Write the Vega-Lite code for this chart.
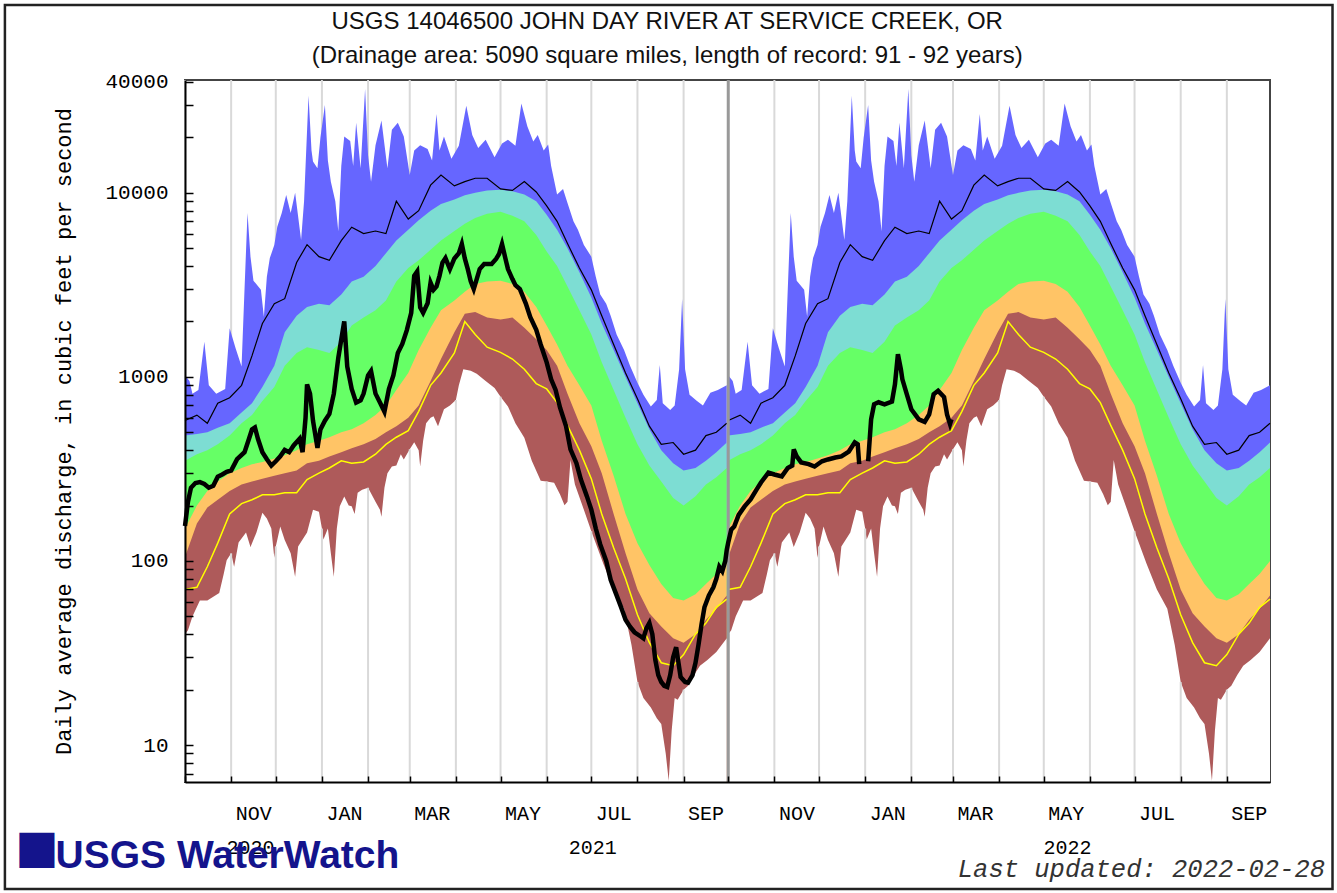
{
"$schema": "https://vega.github.io/schema/vega-lite/v6.json",
"width": 1085, "height": 702,
"autosize": {"type": "none"},
"padding": {"left": 185, "top": 80, "right": 67, "bottom": 111},
"background": "white",
"config": {
  "view": {"stroke": "#444", "strokeWidth": 2},
  "axis": {"labelFont": "Liberation Mono", "labelColor": "#000", "titleFont": "Liberation Mono", "titleColor": "#000", "titleFontWeight": "normal", "domainColor": "#000", "domainWidth": 2, "tickColor": "#000", "grid": false}
},
"datasets": {
"one": [{}],
"titles": [{"d":"2021-08-21","t":"USGS 14046500 JOHN DAY RIVER AT SERVICE CREEK, OR","p":84700},{"d":"2021-08-21","t":"(Drainage area: 5090 square miles, length of record: 91 - 92 years)","p":55360}],
"bands": [
{"d":"2020-10-01","e":"2021-10-01","a":480,"b":350,"c":150,"f":105,"k":580,"y":70},
{"d":"2020-10-09","e":"2021-10-09","a":490,"b":380,"c":200,"f":160,"k":620,"y":72},
{"d":"2020-10-16","e":"2021-10-16","a":500,"b":400,"c":240,"f":195,"k":560,"y":93},
{"d":"2020-10-23","e":"2021-10-23","a":530,"b":430,"c":270,"f":215,"k":720,"y":125},
{"d":"2020-10-31","e":"2021-10-31","a":560,"b":480,"c":300,"f":240,"k":770,"y":180},
{"d":"2020-11-08","e":"2021-11-08","a":640,"b":560,"c":320,"f":260,"k":900,"y":205},
{"d":"2020-11-15","e":"2021-11-15","a":720,"b":620,"c":335,"f":270,"k":1300,"y":215},
{"d":"2020-11-22","e":"2021-11-22","a":880,"b":740,"c":345,"f":280,"k":1950,"y":229},
{"d":"2020-11-30","e":"2021-11-30","a":1150,"b":880,"c":360,"f":290,"k":2500,"y":229},
{"d":"2020-12-07","e":"2021-12-07","a":1750,"b":1150,"c":375,"f":300,"k":2660,"y":235},
{"d":"2020-12-15","e":"2021-12-15","a":2150,"b":1350,"c":400,"f":310,"k":4180,"y":235},
{"d":"2020-12-22","e":"2021-12-22","a":2400,"b":1450,"c":430,"f":340,"k":5230,"y":277},
{"d":"2020-12-30","e":"2021-12-30","a":2500,"b":1400,"c":450,"f":350,"k":4500,"y":300},
{"d":"2021-01-06","e":"2022-01-06","a":2450,"b":1350,"c":470,"f":370,"k":4300,"y":320},
{"d":"2021-01-14","e":"2022-01-14","a":2800,"b":1550,"c":500,"f":390,"k":5500,"y":350},
{"d":"2021-01-21","e":"2022-01-21","a":3300,"b":1900,"c":520,"f":410,"k":6500,"y":340},
{"d":"2021-01-29","e":"2022-01-29","a":3500,"b":2100,"c":560,"f":430,"k":6000,"y":345},
{"d":"2021-02-06","e":"2022-02-06","a":4000,"b":2300,"c":620,"f":460,"k":6200,"y":380},
{"d":"2021-02-13","e":"2022-02-13","a":4700,"b":2600,"c":700,"f":500,"k":6000,"y":430},
{"d":"2021-02-20","e":"2022-02-20","a":5500,"b":3300,"c":850,"f":540,"k":9000,"y":470},
{"d":"2021-02-28","e":"2022-02-28","a":6300,"b":3900,"c":1050,"f":600,"k":7200,"y":510},
{"d":"2021-03-07","e":"2022-03-07","a":7100,"b":4300,"c":1400,"f":700,"k":8000,"y":650},
{"d":"2021-03-15","e":"2022-03-15","a":8000,"b":4900,"c":1850,"f":950,"k":11000,"y":900},
{"d":"2021-03-22","e":"2022-03-22","a":8700,"b":5500,"c":2300,"f":1250,"k":12500,"y":1050},
{"d":"2021-03-31","e":"2022-03-31","a":9200,"b":6200,"c":2600,"f":1750,"k":10900,"y":1350},
{"d":"2021-04-07","e":"2022-04-07","a":9700,"b":6800,"c":2900,"f":2200,"k":11500,"y":2000},
{"d":"2021-04-14","e":"2022-04-14","a":10000,"b":7300,"c":3200,"f":2250,"k":12000,"y":1700},
{"d":"2021-04-22","e":"2022-04-22","a":10300,"b":7700,"c":3300,"f":2100,"k":12000,"y":1450},
{"d":"2021-05-01","e":"2022-05-01","a":10400,"b":7900,"c":3330,"f":2050,"k":10500,"y":1360},
{"d":"2021-05-09","e":"2022-05-09","a":10200,"b":7500,"c":3200,"f":2100,"k":10300,"y":1250},
{"d":"2021-05-17","e":"2022-05-17","a":9800,"b":7000,"c":2900,"f":1850,"k":11500,"y":1100},
{"d":"2021-05-25","e":"2022-05-25","a":9000,"b":5900,"c":2400,"f":1600,"k":10100,"y":920},
{"d":"2021-06-01","e":"2022-06-01","a":7600,"b":4800,"c":1900,"f":1400,"k":8500,"y":860},
{"d":"2021-06-08","e":"2022-06-08","a":6300,"b":4000,"c":1500,"f":1150,"k":7000,"y":725},
{"d":"2021-06-15","e":"2022-06-15","a":5000,"b":3100,"c":1150,"f":810,"k":5300,"y":545},
{"d":"2021-06-23","e":"2022-06-23","a":3700,"b":2300,"c":900,"f":560,"k":3900,"y":400},
{"d":"2021-07-01","e":"2022-07-01","a":2700,"b":1700,"c":700,"f":420,"k":2970,"y":280},
{"d":"2021-07-08","e":"2022-07-08","a":1950,"b":1200,"c":450,"f":300,"k":2150,"y":180},
{"d":"2021-07-16","e":"2022-07-16","a":1400,"b":850,"c":290,"f":180,"k":1500,"y":118},
{"d":"2021-07-24","e":"2022-07-24","a":1000,"b":600,"c":180,"f":110,"k":1050,"y":80},
{"d":"2021-08-01","e":"2022-08-01","a":720,"b":430,"c":125,"f":70,"k":760,"y":51},
{"d":"2021-08-09","e":"2022-08-09","a":520,"b":330,"c":95,"f":52,"k":540,"y":36},
{"d":"2021-08-17","e":"2022-08-17","a":400,"b":270,"c":75,"f":44,"k":430,"y":28},
{"d":"2021-08-25","e":"2022-08-25","a":340,"b":220,"c":63,"f":38,"k":440,"y":27},
{"d":"2021-09-01","e":"2022-09-01","a":310,"b":200,"c":61,"f":36,"k":380,"y":31},
{"d":"2021-09-09","e":"2022-09-09","a":320,"b":225,"c":66,"f":40,"k":400,"y":40},
{"d":"2021-09-16","e":"2022-09-16","a":350,"b":260,"c":75,"f":48,"k":480,"y":46},
{"d":"2021-09-23","e":"2022-09-23","a":390,"b":285,"c":85,"f":55,"k":500,"y":56},
{"d":"2021-09-30","e":"2022-09-30","a":440,"b":320,"c":100,"f":65,"k":560,"y":62}
],
"mx": [
{"d":"2020-10-01","e":"2021-10-01","v":1020},{"d":"2020-10-04","e":"2021-10-04","v":950},{"d":"2020-10-06","e":"2021-10-06","v":811},{"d":"2020-10-10","e":"2021-10-10","v":850},{"d":"2020-10-14","e":"2021-10-14","v":1550},{"d":"2020-10-17","e":"2021-10-17","v":900},{"d":"2020-10-22","e":"2021-10-22","v":811},{"d":"2020-10-28","e":"2021-10-28","v":860},{"d":"2020-10-31","e":"2021-10-31","v":1840},
{"d":"2020-11-04","e":"2021-11-04","v":1430},{"d":"2020-11-08","e":"2021-11-08","v":1140},{"d":"2020-11-10","e":"2021-11-10","v":3000},{"d":"2020-11-12","e":"2021-11-12","v":7760},{"d":"2020-11-14","e":"2021-11-14","v":4500},{"d":"2020-11-16","e":"2021-11-16","v":3330},{"d":"2020-11-21","e":"2021-11-21","v":2970},{"d":"2020-11-23","e":"2021-11-23","v":2120},{"d":"2020-11-25","e":"2021-11-25","v":3500},{"d":"2020-11-27","e":"2021-11-27","v":4420},{"d":"2020-11-30","e":"2021-11-30","v":5200},
{"d":"2020-12-02","e":"2021-12-02","v":6550},{"d":"2020-12-05","e":"2021-12-05","v":7760},{"d":"2020-12-08","e":"2021-12-08","v":9720},{"d":"2020-12-11","e":"2021-12-11","v":7760},{"d":"2020-12-14","e":"2021-12-14","v":10000},{"d":"2020-12-18","e":"2021-12-18","v":5540},{"d":"2020-12-20","e":"2021-12-20","v":9000},{"d":"2020-12-23","e":"2021-12-23","v":33700},{"d":"2020-12-25","e":"2021-12-25","v":17000},{"d":"2020-12-26","e":"2021-12-26","v":14800},{"d":"2020-12-29","e":"2021-12-29","v":13600},{"d":"2020-12-31","e":"2021-12-31","v":20000},
{"d":"2021-01-03","e":"2022-01-03","v":30000},{"d":"2021-01-05","e":"2022-01-05","v":15000},{"d":"2021-01-07","e":"2022-01-07","v":11500},{"d":"2021-01-10","e":"2022-01-10","v":9000},{"d":"2021-01-12","e":"2022-01-12","v":6190},{"d":"2021-01-14","e":"2022-01-14","v":14000},{"d":"2021-01-16","e":"2022-01-16","v":20200},{"d":"2021-01-20","e":"2022-01-20","v":19100},{"d":"2021-01-22","e":"2022-01-22","v":14000},{"d":"2021-01-24","e":"2022-01-24","v":24000},{"d":"2021-01-27","e":"2022-01-27","v":13600},{"d":"2021-01-30","e":"2022-01-30","v":36600},
{"d":"2021-02-01","e":"2022-02-01","v":16000},{"d":"2021-02-03","e":"2022-02-03","v":11500},{"d":"2021-02-06","e":"2022-02-06","v":18100},{"d":"2021-02-10","e":"2022-02-10","v":24700},{"d":"2021-02-14","e":"2022-02-14","v":13600},{"d":"2021-02-17","e":"2022-02-17","v":22000},{"d":"2021-02-21","e":"2022-02-21","v":24000},{"d":"2021-02-25","e":"2022-02-25","v":20200},
{"d":"2021-03-01","e":"2022-03-01","v":12500},{"d":"2021-03-04","e":"2022-03-04","v":17000},{"d":"2021-03-08","e":"2022-03-08","v":18100},{"d":"2021-03-13","e":"2022-03-13","v":17300},{"d":"2021-03-16","e":"2022-03-16","v":15000},{"d":"2021-03-19","e":"2022-03-19","v":26800},{"d":"2021-03-21","e":"2022-03-21","v":17000},{"d":"2021-03-24","e":"2022-03-24","v":20200},{"d":"2021-03-29","e":"2022-03-29","v":15300},
{"d":"2021-04-03","e":"2022-04-03","v":18000},{"d":"2021-04-08","e":"2022-04-08","v":29700},{"d":"2021-04-12","e":"2022-04-12","v":20600},{"d":"2021-04-16","e":"2022-04-16","v":17500},{"d":"2021-04-21","e":"2022-04-21","v":19400},{"d":"2021-04-27","e":"2022-04-27","v":15600},
{"d":"2021-05-02","e":"2022-05-02","v":18500},{"d":"2021-05-06","e":"2022-05-06","v":19400},{"d":"2021-05-11","e":"2022-05-11","v":18000},{"d":"2021-05-15","e":"2022-05-15","v":30600},{"d":"2021-05-19","e":"2022-05-19","v":23000},{"d":"2021-05-23","e":"2022-05-23","v":19000},{"d":"2021-05-26","e":"2022-05-26","v":20600},{"d":"2021-05-30","e":"2022-05-30","v":17000},
{"d":"2021-06-02","e":"2022-06-02","v":18300},{"d":"2021-06-04","e":"2022-06-04","v":14000},{"d":"2021-06-08","e":"2022-06-08","v":9800},{"d":"2021-06-12","e":"2022-06-12","v":10500},{"d":"2021-06-15","e":"2022-06-15","v":8800},{"d":"2021-06-19","e":"2022-06-19","v":7000},{"d":"2021-06-22","e":"2022-06-22","v":6300},{"d":"2021-06-26","e":"2022-06-26","v":5200},
{"d":"2021-07-01","e":"2022-07-01","v":4500},{"d":"2021-07-04","e":"2022-07-04","v":3500},{"d":"2021-07-07","e":"2022-07-07","v":2800},{"d":"2021-07-11","e":"2022-07-11","v":2500},{"d":"2021-07-14","e":"2022-07-14","v":2150},{"d":"2021-07-18","e":"2022-07-18","v":1700},{"d":"2021-07-23","e":"2022-07-23","v":1400},{"d":"2021-07-27","e":"2022-07-27","v":1150},
{"d":"2021-08-01","e":"2022-08-01","v":930},{"d":"2021-08-05","e":"2022-08-05","v":800},{"d":"2021-08-10","e":"2022-08-10","v":690},{"d":"2021-08-14","e":"2022-08-14","v":750},{"d":"2021-08-16","e":"2022-08-16","v":1160},{"d":"2021-08-18","e":"2022-08-18","v":720},{"d":"2021-08-23","e":"2022-08-23","v":660},{"d":"2021-08-26","e":"2022-08-26","v":700},{"d":"2021-08-29","e":"2022-08-29","v":1100},{"d":"2021-08-31","e":"2022-08-31","v":2650},
{"d":"2021-09-02","e":"2022-09-02","v":1100},{"d":"2021-09-05","e":"2022-09-05","v":800},{"d":"2021-09-10","e":"2022-09-10","v":740},{"d":"2021-09-14","e":"2022-09-14","v":700},{"d":"2021-09-19","e":"2022-09-19","v":820},{"d":"2021-09-24","e":"2022-09-24","v":850},{"d":"2021-09-30","e":"2022-09-30","v":900}
],
"mn": [
{"d":"2020-10-01","e":"2021-10-01","v":40},{"d":"2020-10-03","e":"2021-10-03","v":42},{"d":"2020-10-06","e":"2021-10-06","v":50},{"d":"2020-10-11","e":"2021-10-11","v":61},{"d":"2020-10-16","e":"2021-10-16","v":61},{"d":"2020-10-20","e":"2021-10-20","v":64},{"d":"2020-10-24","e":"2021-10-24","v":67},{"d":"2020-10-27","e":"2021-10-27","v":85},{"d":"2020-10-29","e":"2021-10-29","v":101},
{"d":"2020-11-01","e":"2021-11-01","v":110},{"d":"2020-11-03","e":"2021-11-03","v":93},{"d":"2020-11-06","e":"2021-11-06","v":126},{"d":"2020-11-11","e":"2021-11-11","v":143},{"d":"2020-11-14","e":"2021-11-14","v":119},{"d":"2020-11-18","e":"2021-11-18","v":143},{"d":"2020-11-22","e":"2021-11-22","v":183},{"d":"2020-11-25","e":"2021-11-25","v":170},{"d":"2020-11-28","e":"2021-11-28","v":150},{"d":"2020-11-30","e":"2021-11-30","v":104},
{"d":"2020-12-01","e":"2021-12-01","v":120},{"d":"2020-12-04","e":"2021-12-04","v":154},{"d":"2020-12-07","e":"2021-12-07","v":130},{"d":"2020-12-11","e":"2021-12-11","v":110},{"d":"2020-12-14","e":"2021-12-14","v":82},{"d":"2020-12-16","e":"2021-12-16","v":120},{"d":"2020-12-19","e":"2021-12-19","v":131},{"d":"2020-12-22","e":"2021-12-22","v":143},{"d":"2020-12-26","e":"2021-12-26","v":190},{"d":"2020-12-30","e":"2021-12-30","v":185},
{"d":"2021-01-01","e":"2022-01-01","v":150},{"d":"2021-01-02","e":"2022-01-02","v":131},{"d":"2021-01-05","e":"2022-01-05","v":150},{"d":"2021-01-07","e":"2022-01-07","v":110},{"d":"2021-01-09","e":"2022-01-09","v":82},{"d":"2021-01-11","e":"2022-01-11","v":150},{"d":"2021-01-13","e":"2022-01-13","v":198},{"d":"2021-01-16","e":"2022-01-16","v":224},{"d":"2021-01-19","e":"2022-01-19","v":200},{"d":"2021-01-21","e":"2022-01-21","v":198},{"d":"2021-01-23","e":"2022-01-23","v":180},{"d":"2021-01-25","e":"2022-01-25","v":235},{"d":"2021-01-28","e":"2022-01-28","v":244},
{"d":"2021-02-01","e":"2022-02-01","v":250},{"d":"2021-02-06","e":"2022-02-06","v":210},{"d":"2021-02-09","e":"2022-02-09","v":190},{"d":"2021-02-10","e":"2022-02-10","v":174},{"d":"2021-02-12","e":"2022-02-12","v":250},{"d":"2021-02-14","e":"2022-02-14","v":300},{"d":"2021-02-17","e":"2022-02-17","v":326},{"d":"2021-02-20","e":"2022-02-20","v":330},{"d":"2021-02-23","e":"2022-02-23","v":380},{"d":"2021-02-25","e":"2022-02-25","v":356},
{"d":"2021-03-01","e":"2022-03-01","v":404},{"d":"2021-03-04","e":"2022-03-04","v":441},{"d":"2021-03-07","e":"2022-03-07","v":400},{"d":"2021-03-08","e":"2022-03-08","v":326},{"d":"2021-03-10","e":"2022-03-10","v":450},{"d":"2021-03-12","e":"2022-03-12","v":560},{"d":"2021-03-15","e":"2022-03-15","v":600},{"d":"2021-03-17","e":"2022-03-17","v":611},{"d":"2021-03-20","e":"2022-03-20","v":540},{"d":"2021-03-24","e":"2022-03-24","v":667},{"d":"2021-03-28","e":"2022-03-28","v":700},
{"d":"2021-04-01","e":"2022-04-01","v":750},{"d":"2021-04-03","e":"2022-04-03","v":900},{"d":"2021-04-06","e":"2022-04-06","v":1100},{"d":"2021-04-11","e":"2022-04-11","v":1080},{"d":"2021-04-15","e":"2022-04-15","v":1040},{"d":"2021-04-21","e":"2022-04-21","v":950},{"d":"2021-04-27","e":"2022-04-27","v":870},
{"d":"2021-05-01","e":"2022-05-01","v":780},{"d":"2021-05-06","e":"2022-05-06","v":690},{"d":"2021-05-11","e":"2022-05-11","v":560},{"d":"2021-05-17","e":"2022-05-17","v":467},{"d":"2021-05-22","e":"2022-05-22","v":350},{"d":"2021-05-28","e":"2022-05-28","v":273},
{"d":"2021-06-01","e":"2022-06-01","v":270},{"d":"2021-06-06","e":"2022-06-06","v":266},{"d":"2021-06-10","e":"2022-06-10","v":230},{"d":"2021-06-13","e":"2022-06-13","v":201},{"d":"2021-06-15","e":"2022-06-15","v":210},{"d":"2021-06-17","e":"2022-06-17","v":354},{"d":"2021-06-20","e":"2022-06-20","v":260},{"d":"2021-06-26","e":"2022-06-26","v":190},
{"d":"2021-07-01","e":"2022-07-01","v":145},{"d":"2021-07-09","e":"2022-07-09","v":97},{"d":"2021-07-16","e":"2022-07-16","v":70},{"d":"2021-07-23","e":"2022-07-23","v":55},{"d":"2021-07-28","e":"2022-07-28","v":35},
{"d":"2021-08-01","e":"2022-08-01","v":22},{"d":"2021-08-05","e":"2022-08-05","v":18},{"d":"2021-08-10","e":"2022-08-10","v":16},{"d":"2021-08-14","e":"2022-08-14","v":14},{"d":"2021-08-17","e":"2022-08-17","v":13},{"d":"2021-08-20","e":"2022-08-20","v":9},{"d":"2021-08-22","e":"2022-08-22","v":6.4},{"d":"2021-08-24","e":"2022-08-24","v":12},{"d":"2021-08-26","e":"2022-08-26","v":18},{"d":"2021-08-28","e":"2022-08-28","v":17.6},
{"d":"2021-09-01","e":"2022-09-01","v":20},{"d":"2021-09-04","e":"2022-09-04","v":21},{"d":"2021-09-08","e":"2022-09-08","v":24},{"d":"2021-09-12","e":"2022-09-12","v":27},{"d":"2021-09-17","e":"2022-09-17","v":29},{"d":"2021-09-23","e":"2022-09-23","v":32},{"d":"2021-09-30","e":"2022-09-30","v":38}
],
"flow": [
{"d":"2020-10-01","v":155,"s":1},{"d":"2020-10-03","v":210,"s":1},{"d":"2020-10-05","v":250,"s":1},{"d":"2020-10-08","v":265,"s":1},{"d":"2020-10-11","v":268,"s":1},{"d":"2020-10-14","v":262,"s":1},{"d":"2020-10-17","v":250,"s":1},{"d":"2020-10-20","v":256,"s":1},{"d":"2020-10-23","v":287,"s":1},{"d":"2020-10-26","v":295,"s":1},{"d":"2020-10-29","v":305,"s":1},
{"d":"2020-11-01","v":310,"s":1},{"d":"2020-11-05","v":357,"s":1},{"d":"2020-11-10","v":390,"s":1},{"d":"2020-11-13","v":461,"s":1},{"d":"2020-11-15","v":518,"s":1},{"d":"2020-11-17","v":531,"s":1},{"d":"2020-11-19","v":461,"s":1},{"d":"2020-11-22","v":390,"s":1},{"d":"2020-11-25","v":357,"s":1},{"d":"2020-11-28","v":330,"s":1},
{"d":"2020-12-01","v":348,"s":1},{"d":"2020-12-04","v":370,"s":1},{"d":"2020-12-07","v":401,"s":1},{"d":"2020-12-10","v":390,"s":1},{"d":"2020-12-13","v":424,"s":1},{"d":"2020-12-17","v":461,"s":1},{"d":"2020-12-19","v":390,"s":1},{"d":"2020-12-21","v":600,"s":1},{"d":"2020-12-22","v":911,"s":1},{"d":"2020-12-24","v":811,"s":1},{"d":"2020-12-26","v":578,"s":1},{"d":"2020-12-29","v":411,"s":1},{"d":"2020-12-31","v":518,"s":1},
{"d":"2021-01-03","v":578,"s":1},{"d":"2021-01-06","v":629,"s":1},{"d":"2021-01-09","v":811,"s":1},{"d":"2021-01-12","v":1270,"s":1},{"d":"2021-01-15","v":1790,"s":1},{"d":"2021-01-16","v":2000,"s":1},{"d":"2021-01-18","v":1140,"s":1},{"d":"2021-01-21","v":859,"s":1},{"d":"2021-01-24","v":725,"s":1},{"d":"2021-01-27","v":746,"s":1},{"d":"2021-01-29","v":811,"s":1},
{"d":"2021-02-01","v":1017,"s":1},{"d":"2021-02-03","v":1075,"s":1},{"d":"2021-02-06","v":811,"s":1},{"d":"2021-02-09","v":725,"s":1},{"d":"2021-02-12","v":647,"s":1},{"d":"2021-02-15","v":859,"s":1},{"d":"2021-02-18","v":1017,"s":1},{"d":"2021-02-21","v":1350,"s":1},{"d":"2021-02-24","v":1510,"s":1},{"d":"2021-02-27","v":1790,"s":1},
{"d":"2021-03-02","v":2230,"s":1},{"d":"2021-03-04","v":3540,"s":1},{"d":"2021-03-06","v":3740,"s":1},{"d":"2021-03-08","v":2390,"s":1},{"d":"2021-03-10","v":2230,"s":1},{"d":"2021-03-13","v":2510,"s":1},{"d":"2021-03-15","v":3250,"s":1},{"d":"2021-03-17","v":2970,"s":1},{"d":"2021-03-19","v":3100,"s":1},{"d":"2021-03-21","v":3540,"s":1},{"d":"2021-03-23","v":4180,"s":1},{"d":"2021-03-25","v":4420,"s":1},{"d":"2021-03-28","v":3850,"s":1},{"d":"2021-03-31","v":4400,"s":1},
{"d":"2021-04-03","v":4700,"s":1},{"d":"2021-04-05","v":5270,"s":1},{"d":"2021-04-07","v":4400,"s":1},{"d":"2021-04-09","v":3850,"s":1},{"d":"2021-04-11","v":3300,"s":1},{"d":"2021-04-13","v":3000,"s":1},{"d":"2021-04-15","v":3400,"s":1},{"d":"2021-04-17","v":3850,"s":1},{"d":"2021-04-20","v":4100,"s":1},{"d":"2021-04-25","v":4100,"s":1},{"d":"2021-04-28","v":4370,"s":1},{"d":"2021-04-30","v":4650,"s":1},
{"d":"2021-05-02","v":5270,"s":1},{"d":"2021-05-04","v":4500,"s":1},{"d":"2021-05-06","v":3850,"s":1},{"d":"2021-05-09","v":3400,"s":1},{"d":"2021-05-11","v":3150,"s":1},{"d":"2021-05-14","v":3000,"s":1},{"d":"2021-05-18","v":2500,"s":1},{"d":"2021-05-21","v":2110,"s":1},{"d":"2021-05-25","v":1800,"s":1},{"d":"2021-05-28","v":1500,"s":1},
{"d":"2021-06-01","v":1200,"s":1},{"d":"2021-06-04","v":970,"s":1},{"d":"2021-06-07","v":850,"s":1},{"d":"2021-06-10","v":680,"s":1},{"d":"2021-06-14","v":540,"s":1},{"d":"2021-06-17","v":404,"s":1},{"d":"2021-06-21","v":340,"s":1},{"d":"2021-06-24","v":277,"s":1},{"d":"2021-06-28","v":225,"s":1},
{"d":"2021-07-01","v":190,"s":1},{"d":"2021-07-04","v":150,"s":1},{"d":"2021-07-07","v":123,"s":1},{"d":"2021-07-11","v":100,"s":1},{"d":"2021-07-14","v":79,"s":1},{"d":"2021-07-18","v":65,"s":1},{"d":"2021-07-21","v":56,"s":1},{"d":"2021-07-24","v":48,"s":1},{"d":"2021-07-27","v":44,"s":1},{"d":"2021-07-30","v":41,"s":1},
{"d":"2021-08-03","v":39,"s":1},{"d":"2021-08-05","v":38,"s":1},{"d":"2021-08-07","v":43,"s":1},{"d":"2021-08-09","v":46,"s":1},{"d":"2021-08-11","v":40,"s":1},{"d":"2021-08-13","v":29,"s":1},{"d":"2021-08-15","v":24,"s":1},{"d":"2021-08-17","v":22,"s":1},{"d":"2021-08-19","v":21,"s":1},{"d":"2021-08-21","v":20.7,"s":1},{"d":"2021-08-23","v":24,"s":1},{"d":"2021-08-25","v":30,"s":1},{"d":"2021-08-27","v":34,"s":1},{"d":"2021-08-28","v":30,"s":1},{"d":"2021-08-30","v":23.4,"s":1},
{"d":"2021-09-02","v":22,"s":1},{"d":"2021-09-04","v":21.8,"s":1},{"d":"2021-09-07","v":24,"s":1},{"d":"2021-09-09","v":28,"s":1},{"d":"2021-09-11","v":35,"s":1},{"d":"2021-09-13","v":45,"s":1},{"d":"2021-09-15","v":56,"s":1},{"d":"2021-09-18","v":65,"s":1},{"d":"2021-09-21","v":72,"s":1},{"d":"2021-09-23","v":80,"s":1},{"d":"2021-09-25","v":93,"s":1},{"d":"2021-09-27","v":88,"s":1},{"d":"2021-09-29","v":100,"s":1},{"d":"2021-09-30","v":115,"s":1},
{"d":"2021-10-01","v":126,"s":1},{"d":"2021-10-03","v":148,"s":1},{"d":"2021-10-05","v":154,"s":1},{"d":"2021-10-08","v":178,"s":1},{"d":"2021-10-12","v":198,"s":1},{"d":"2021-10-16","v":216,"s":1},{"d":"2021-10-20","v":244,"s":1},{"d":"2021-10-23","v":267,"s":1},{"d":"2021-10-28","v":302,"s":1},
{"d":"2021-11-01","v":295,"s":1},{"d":"2021-11-06","v":288,"s":1},{"d":"2021-11-10","v":320,"s":1},{"d":"2021-11-13","v":330,"s":1},{"d":"2021-11-14","v":404,"s":1},{"d":"2021-11-16","v":370,"s":1},{"d":"2021-11-19","v":343,"s":1},{"d":"2021-11-24","v":336,"s":1},{"d":"2021-11-28","v":326,"s":1},
{"d":"2021-12-03","v":348,"s":1},{"d":"2021-12-07","v":356,"s":1},{"d":"2021-12-12","v":365,"s":1},{"d":"2021-12-16","v":370,"s":1},{"d":"2021-12-21","v":393,"s":1},{"d":"2021-12-25","v":441,"s":1},{"d":"2021-12-27","v":430,"s":1},{"d":"2021-12-28","v":336,"s":1},
{"d":"2022-01-03","v":348,"s":2},{"d":"2022-01-05","v":588,"s":2},{"d":"2022-01-07","v":710,"s":2},{"d":"2022-01-10","v":728,"s":2},{"d":"2022-01-14","v":710,"s":2},{"d":"2022-01-19","v":735,"s":2},{"d":"2022-01-21","v":910,"s":2},{"d":"2022-01-23","v":1327,"s":2},{"d":"2022-01-25","v":1100,"s":2},{"d":"2022-01-26","v":970,"s":2},{"d":"2022-01-29","v":804,"s":2},
{"d":"2022-02-01","v":667,"s":2},{"d":"2022-02-06","v":588,"s":2},{"d":"2022-02-10","v":570,"s":2},{"d":"2022-02-13","v":625,"s":2},{"d":"2022-02-16","v":804,"s":2},{"d":"2022-02-19","v":840,"s":2},{"d":"2022-02-23","v":777,"s":2},{"d":"2022-02-25","v":625,"s":2},{"d":"2022-02-27","v":555,"s":2},{"d":"2022-02-28","v":588,"s":2}
],
"years": [{"d":"2020-11-14","t":"2020"},{"d":"2021-07-02","t":"2021"},{"d":"2022-05-17","t":"2022"}]
},
"layer": [
{"data": {"name": "mn"}, "transform": [{"filter": "utcdate(toDate(datum.d)) == 1"}], "mark": {"type": "rule", "color": "#d9d9d9", "strokeWidth": 2},
 "encoding": {"x": {"field": "d", "type": "temporal"}}},
{"data": {"name": "mn"}, "transform": [{"filter": "utcdate(toDate(datum.e)) == 1"}], "mark": {"type": "rule", "color": "#d9d9d9", "strokeWidth": 2},
 "encoding": {"x": {"field": "e", "type": "temporal"}}},
{"data": {"name": "mx"}, "mark": {"type": "area", "color": "#6666FF"}, "encoding": {"x": {"field": "d", "type": "temporal"}, "y": {"field": "v", "type": "quantitative"}, "y2": {"datum": 6.3}}},
{"data": {"name": "mx"}, "mark": {"type": "area", "color": "#6666FF"}, "encoding": {"x": {"field": "e", "type": "temporal"}, "y": {"field": "v", "type": "quantitative"}, "y2": {"datum": 6.3}}},
{"data": {"name": "bands"}, "mark": {"type": "area", "color": "#7DDDD3"}, "encoding": {"x": {"field": "d", "type": "temporal"}, "y": {"field": "a", "type": "quantitative"}, "y2": {"datum": 6.3}}},
{"data": {"name": "bands"}, "mark": {"type": "area", "color": "#7DDDD3"}, "encoding": {"x": {"field": "e", "type": "temporal"}, "y": {"field": "a", "type": "quantitative"}, "y2": {"datum": 6.3}}},
{"data": {"name": "bands"}, "mark": {"type": "area", "color": "#66FF66"}, "encoding": {"x": {"field": "d", "type": "temporal"}, "y": {"field": "b", "type": "quantitative"}, "y2": {"datum": 6.3}}},
{"data": {"name": "bands"}, "mark": {"type": "area", "color": "#66FF66"}, "encoding": {"x": {"field": "e", "type": "temporal"}, "y": {"field": "b", "type": "quantitative"}, "y2": {"datum": 6.3}}},
{"data": {"name": "bands"}, "mark": {"type": "area", "color": "#FFC466"}, "encoding": {"x": {"field": "d", "type": "temporal"}, "y": {"field": "c", "type": "quantitative"}, "y2": {"datum": 6.3}}},
{"data": {"name": "bands"}, "mark": {"type": "area", "color": "#FFC466"}, "encoding": {"x": {"field": "e", "type": "temporal"}, "y": {"field": "c", "type": "quantitative"}, "y2": {"datum": 6.3}}},
{"data": {"name": "bands"}, "mark": {"type": "area", "color": "#AE5A5A"}, "encoding": {"x": {"field": "d", "type": "temporal"}, "y": {"field": "f", "type": "quantitative"}, "y2": {"datum": 6.3}}},
{"data": {"name": "bands"}, "mark": {"type": "area", "color": "#AE5A5A"}, "encoding": {"x": {"field": "e", "type": "temporal"}, "y": {"field": "f", "type": "quantitative"}, "y2": {"datum": 6.3}}},
{"data": {"name": "mn"}, "mark": {"type": "area", "color": "#FFFFFF"}, "encoding": {"x": {"field": "d", "type": "temporal"}, "y": {"field": "v", "type": "quantitative"}, "y2": {"datum": 6.3}}},
{"data": {"name": "mn"}, "mark": {"type": "area", "color": "#FFFFFF"}, "encoding": {"x": {"field": "e", "type": "temporal"}, "y": {"field": "v", "type": "quantitative"}, "y2": {"datum": 6.3}}},
{"data": {"name": "mn"}, "transform": [{"filter": "utcdate(toDate(datum.d)) == 1"}], "mark": {"type": "rule", "color": "#d9d9d9", "strokeWidth": 2},
 "encoding": {"x": {"field": "d", "type": "temporal"}, "y": {"field": "v", "type": "quantitative"}, "y2": {"datum": 6.3}}},
{"data": {"name": "mn"}, "transform": [{"filter": "utcdate(toDate(datum.e)) == 1"}], "mark": {"type": "rule", "color": "#d9d9d9", "strokeWidth": 2},
 "encoding": {"x": {"field": "e", "type": "temporal"}, "y": {"field": "v", "type": "quantitative"}, "y2": {"datum": 6.3}}},
{"data": {"name": "bands"}, "mark": {"type": "line", "color": "#000000", "strokeWidth": 1.2}, "encoding": {"x": {"field": "d", "type": "temporal"}, "y": {"field": "k", "type": "quantitative"}}},
{"data": {"name": "bands"}, "mark": {"type": "line", "color": "#000000", "strokeWidth": 1.2}, "encoding": {"x": {"field": "e", "type": "temporal"}, "y": {"field": "k", "type": "quantitative"}}},
{"data": {"name": "bands"}, "mark": {"type": "line", "color": "#FFFF00", "strokeWidth": 1.5}, "encoding": {"x": {"field": "d", "type": "temporal"}, "y": {"field": "y", "type": "quantitative"}}},
{"data": {"name": "bands"}, "mark": {"type": "line", "color": "#FFFF00", "strokeWidth": 1.5}, "encoding": {"x": {"field": "e", "type": "temporal"}, "y": {"field": "y", "type": "quantitative"}}},
{"data": {"name": "one"}, "mark": {"type": "rule", "color": "#999999", "strokeWidth": 3}, "encoding": {"x": {"datum": {"year": 2021, "month": 10, "date": 1, "utc": true}, "type": "temporal"}}},
{"data": {"name": "flow"}, "mark": {"type": "line", "color": "#000000", "strokeWidth": 4.5, "strokeJoin": "miter"},
 "encoding": {
  "x": {"field": "d", "type": "temporal",
    "scale": {"type": "utc", "domain": [{"year": 2020, "month": 10, "date": 1, "utc": true}, {"year": 2022, "month": 9, "date": 30, "utc": true}], "nice": false},
    "axis": {"title": null, "zindex": 1, "grid": false, "tickCount": {"interval": "month", "step": 1}, "tickSize": -6, "tickWidth": 1.5, "domainWidth": 2,
      "labelExpr": "utcmonth(datum.value) % 2 == 0 ? upper(utcFormat(datum.value, '%b')) : ''",
      "labelFont": "Liberation Mono", "labelFontSize": 20, "labelOffset": 22, "labelPadding": 27, "labelBaseline": "top", "labelOverlap": false, "labelFlush": false, "labelBound": false}},
  "y": {"field": "v", "type": "quantitative",
    "scale": {"type": "log", "domain": [6.3, 41000], "nice": false},
    "axis": {"title": "Daily average discharge, in cubic feet per second", "titleFont": "Liberation Mono", "titleFontSize": 22, "titleFontWeight": "normal", "titlePadding": 29, "zindex": 1, "grid": false,
      "values": [7,8,9,10,20,30,40,50,60,70,80,90,100,200,300,400,500,600,700,800,900,1000,2000,3000,4000,5000,6000,7000,8000,9000,10000,20000,30000,40000],
      "labelExpr": "indexof([10,100,1000,10000,40000], datum.value) >= 0 ? '' + datum.value : ''",
      "tickSize": -8, "tickWidth": 1.5, "domainWidth": 2, "labelFont": "Liberation Mono", "labelFontSize": 21, "labelPadding": 25, "labelOverlap": false, "labelFlush": false, "labelBound": false}},
  "detail": {"field": "s", "type": "nominal"}}},
{"data": {"name": "titles"}, "mark": {"type": "text", "font": "Liberation Sans", "fontSize": 24, "color": "#111", "align": "center", "baseline": "middle"}, "encoding": {"x": {"field": "d", "type": "temporal"}, "y": {"field": "p", "type": "quantitative"}, "text": {"field": "t", "type": "nominal"}}},
{"data": {"name": "years"}, "mark": {"type": "text", "font": "Liberation Mono", "fontSize": 20, "color": "#000", "align": "center", "baseline": "middle"}, "encoding": {"x": {"field": "d", "type": "temporal"}, "y": {"datum": 2.76}, "text": {"field": "t", "type": "nominal"}}},
{"data": {"name": "one"}, "mark": {"type": "text", "text": "■", "font": "DejaVu Sans", "fontSize": 46, "color": "#14148C", "align": "left", "baseline": "alphabetic"}, "encoding": {"x": {"datum": {"year": 2020, "month": 6, "date": 9, "utc": true}, "type": "temporal"}, "y": {"datum": 2.315}}},
{"data": {"name": "one"}, "mark": {"type": "text", "text": "USGS WaterWatch", "font": "Liberation Sans", "fontWeight": "bold", "fontSize": 39, "color": "#14148C", "align": "left", "baseline": "alphabetic"}, "encoding": {"x": {"datum": {"year": 2020, "month": 7, "date": 6, "utc": true}, "type": "temporal"}, "y": {"datum": 2.14}}},
{"data": {"name": "one"}, "mark": {"type": "text", "text": "Last updated: 2022-02-28", "font": "Liberation Mono", "fontStyle": "italic", "fontSize": 25.5, "color": "#333", "align": "right", "baseline": "middle"}, "encoding": {"x": {"datum": {"year": 2022, "month": 11, "date": 6, "utc": true}, "type": "temporal"}, "y": {"datum": 2.11}}},
{"data": {"name": "one"}, "mark": {"type": "rect", "filled": false, "stroke": "#222", "strokeWidth": 2.5}, "encoding": {"x": {"datum": {"year": 2020, "month": 6, "date": 2, "utc": true}, "type": "temporal"}, "x2": {"datum": {"year": 2022, "month": 11, "date": 11, "utc": true}}, "y": {"datum": 104800}, "y2": {"datum": 1.652}}}
]
}
